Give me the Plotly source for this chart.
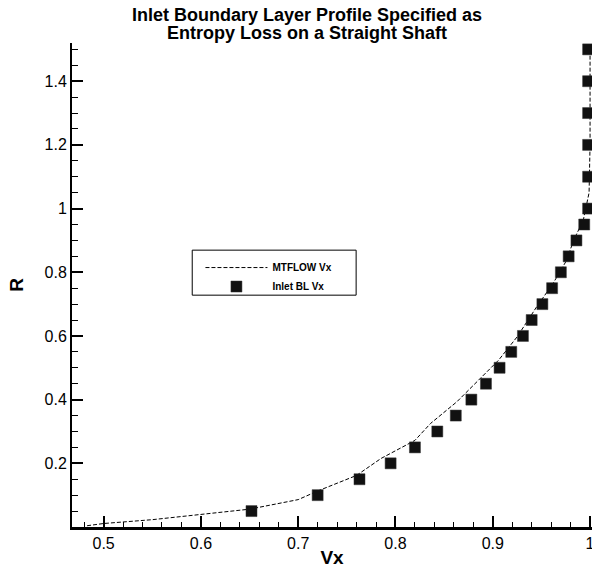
import plotly.graph_objects as go

# MTFLOW Vx profile (line)
mtflow_vx = [0.483, 0.50, 0.55, 0.60, 0.65, 0.70, 0.72, 0.76, 0.785, 0.82, 0.836, 0.863,
             0.887, 0.906, 0.925, 0.945, 0.962, 0.976, 0.983, 0.993, 0.999, 1.0, 1.0]
mtflow_r = [0.004, 0.011, 0.023, 0.040, 0.056, 0.086, 0.113, 0.162, 0.215, 0.272, 0.325, 0.393,
            0.466, 0.524, 0.597, 0.691, 0.765, 0.838, 0.90, 0.963, 1.05, 1.2, 1.5]

# Inlet BL Vx (square markers)
inlet_r = [0.05, 0.10, 0.15, 0.20, 0.25, 0.30, 0.35, 0.40, 0.45, 0.50, 0.55, 0.60, 0.65,
           0.70, 0.75, 0.80, 0.85, 0.90, 0.95, 1.00, 1.10, 1.20, 1.30, 1.40, 1.50]
inlet_vx = [0.652, 0.720, 0.763, 0.795, 0.820, 0.843, 0.862, 0.878, 0.893, 0.907, 0.919, 0.931,
            0.940, 0.951, 0.961, 0.970, 0.978, 0.986, 0.994, 0.998, 0.998, 0.998, 0.998, 0.998, 0.998]

x_ticks = [0.5, 0.6, 0.7, 0.8, 0.9, 1.0]
x_ticklabels = ["0.5", "0.6", "0.7", "0.8", "0.9", "1"]
y_ticks = [0.2, 0.4, 0.6, 0.8, 1.0, 1.2, 1.4]
y_ticklabels = ["0.2", "0.4", "0.6", "0.8", "1", "1.2", "1.4"]

title_lines = ["Inlet Boundary Layer Profile Specified as", "Entropy Loss on a Straight Shaft"]

FONT = "Liberation Sans, Arial, Helvetica, sans-serif"

fig = go.Figure()
fig.add_trace(go.Scatter(
    x=mtflow_vx, y=mtflow_r, mode="lines", name="MTFLOW Vx",
    line=dict(color="black", width=1, dash="4px,2px"),
))
fig.add_trace(go.Scatter(
    x=inlet_vx, y=inlet_r, mode="markers", name="Inlet BL Vx",
    marker=dict(symbol="square", size=11, color="#111111",
                line=dict(color="#333333", width=0.5)),
    cliponaxis=False,
))

# plot area: 72..592 px horizontally, 43..527 px vertically (height 484)
def py(px_from_top):
    return (571 - 44 - px_from_top) / 484.0

annotations = [
    dict(text=title_lines[0], xref="paper", yref="paper", x=0.451, y=py(14.5),
         xanchor="center", yanchor="middle", showarrow=False,
         font=dict(size=18, weight="bold", family=FONT)),
    dict(text=title_lines[1], xref="paper", yref="paper", x=0.451, y=py(33),
         xanchor="center", yanchor="middle", showarrow=False,
         font=dict(size=18, weight="bold", family=FONT)),
]

fig.update_layout(
    width=592, height=571,
    margin=dict(l=72, r=0, t=43, b=44),
    paper_bgcolor="white", plot_bgcolor="white",
    font=dict(family=FONT, color="black"),
    showlegend=True,
    legend=dict(
        x=0.247, y=0.566, xanchor="left", yanchor="top",
        bgcolor="rgba(0,0,0,0)", borderwidth=0,
        font=dict(size=10, weight="bold", family=FONT),
        itemwidth=62, tracegroupgap=0,
    ),
    xaxis=dict(
        range=[0.4675, 1.002], showgrid=False, zeroline=False, automargin=False,
        showline=True, linecolor="black", linewidth=3,
        ticks="inside", ticklen=11, tickwidth=2, tickcolor="black",
        tickvals=x_ticks, ticktext=x_ticklabels, ticklabeloverflow="allow",
        tickfont=dict(size=16, family=FONT),
        minor=dict(dtick=0.02, tick0=0.5, ticks="inside", ticklen=5, tickwidth=1, tickcolor="black"),
        title=dict(text="Vx", font=dict(size=19, weight="bold", family=FONT), standoff=0),
    ),
    yaxis=dict(
        range=[0, 1.52], showgrid=False, zeroline=False,
        showline=True, linecolor="black", linewidth=2,
        ticks="inside", ticklen=11, tickwidth=2, tickcolor="black",
        tickvals=y_ticks, ticktext=y_ticklabels,
        tickfont=dict(size=16, family=FONT),
        minor=dict(dtick=0.05, tick0=0, ticks="inside", ticklen=6, tickwidth=1, tickcolor="black"),
        title=dict(text="R", font=dict(size=19, weight="bold", family=FONT), standoff=16),
    ),
    annotations=annotations,
    shapes=[dict(
        type="rect", xref="paper", yref="paper",
        x0=0.2312, x1=0.5464, y0=0.479, y1=0.572,
        line=dict(color="black", width=1), fillcolor="rgba(0,0,0,0)",
    )],
)

fig.write_html("out.html", config={"displayModeBar": False},
               post_script="document.body.style.margin='0';")
